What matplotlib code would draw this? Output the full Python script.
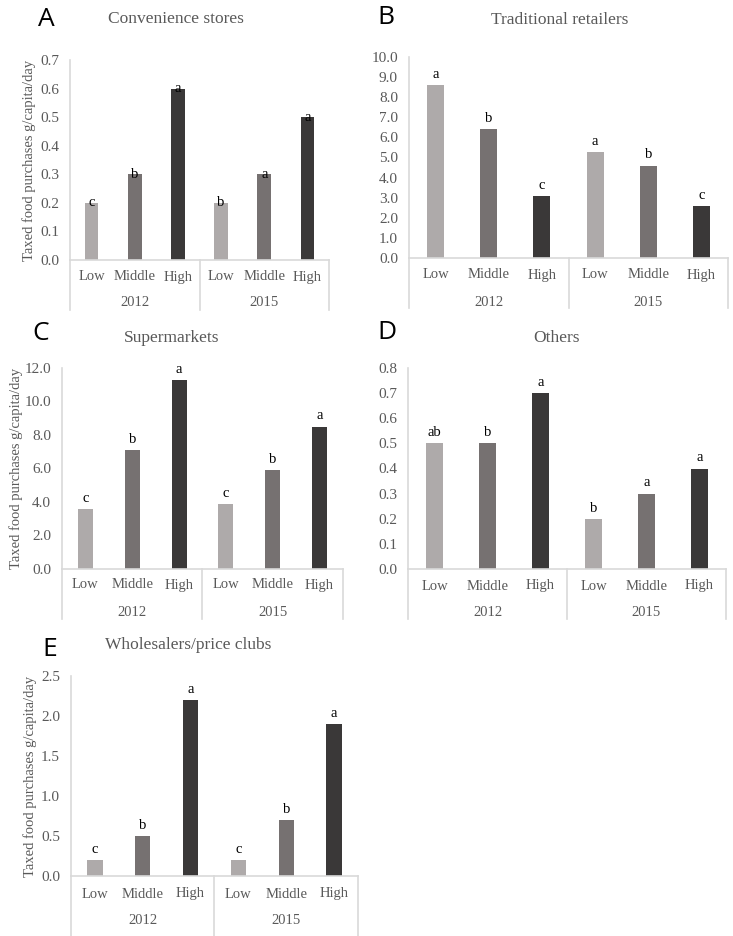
import matplotlib
matplotlib.use("Agg")
import matplotlib.pyplot as plt
import matplotlib.transforms as mtransforms

# ---- data ----
categories = ["Low", "Middle", "High"]
years = ["2012", "2015"]

conv_2012 = [0.2, 0.3, 0.6]
conv_2015 = [0.2, 0.3, 0.5]
conv_letters = ["c", "b", "a", "b", "a", "a"]

trad_2012 = [8.6, 6.4, 3.1]
trad_2015 = [5.25, 4.6, 2.6]
trad_letters = ["a", "b", "c", "a", "b", "c"]

super_2012 = [3.6, 7.1, 11.3]
super_2015 = [3.9, 5.9, 8.5]
super_letters = ["c", "b", "a", "c", "b", "a"]

other_2012 = [0.5, 0.5, 0.7]
other_2015 = [0.2, 0.3, 0.4]
other_letters = ["ab", "b", "a", "b", "a", "a"]

whole_2012 = [0.2, 0.5, 2.2]
whole_2015 = [0.2, 0.7, 1.9]
whole_letters = ["c", "b", "a", "c", "b", "a"]

bar_colors = ["#aeaaaa", "#767171", "#3a3838"]
axis_col = "#d9d9d9"
txt_col = "#595959"
SERIF = ["Liberation Serif", "DejaVu Serif"]
SANS = ["Open Sans", "DejaVu Sans"]

W, H = 733, 936
fig = plt.figure(figsize=(W / 100, H / 100), dpi=100)
fig.patch.set_facecolor("white")


def px_axes(left, right, top, bottom):
    return fig.add_axes([left / W, 1 - bottom / H, (right - left) / W, (bottom - top) / H])


def panel(box, v2012, v2015, letters, ymax, ystep, fmt, title, title_xy, tag, tag_xy,
          ylabel=None, ylabel_x=None, cat_dy=17, year_dy=42, sep_dy=50, letter_mode="above"):
    left, right, top, bottom = box
    ax = px_axes(left, right, top, bottom)
    vals = list(v2012) + list(v2015)
    xs = list(range(6))
    cols = bar_colors * 2
    ax.bar(xs, vals, width=0.32, color=cols, zorder=2)
    ax.set_xlim(-0.5, 5.5)
    ax.set_ylim(0, ymax)
    n = int(round(ymax / ystep))
    ticks = [i * ystep for i in range(n + 1)]
    ax.set_yticks(ticks)
    ax.set_yticklabels([fmt.format(t) for t in ticks], fontsize=11, color=txt_col, family=SERIF)
    ax.tick_params(axis="y", length=0, pad=8)
    ax.set_xticks([])
    for s in ["top", "right"]:
        ax.spines[s].set_visible(False)
    for s in ["left", "bottom"]:
        ax.spines[s].set_color(axis_col)
        ax.spines[s].set_linewidth(1.2)
    ax.set_facecolor("none")

    ppx = (bottom - top)  # axes height in px
    trans = mtransforms.blended_transform_factory(ax.transData, ax.transAxes)
    labs = categories * 2
    for x, lab in zip(xs, labs):
        ax.text(x, -cat_dy / ppx, lab, transform=trans, ha="center", va="center",
                fontsize=10.5, color=txt_col, family=SERIF)
    for g, yr in enumerate(years):
        ax.text(1 + 3 * g, -year_dy / ppx, yr, transform=trans, ha="center", va="center",
                fontsize=10.5, color=txt_col, family=SERIF)
    for xsep in [-0.5, 2.5, 5.5]:
        ax.plot([xsep, xsep], [0, -sep_dy / ppx], transform=trans, color=axis_col,
                lw=1.2, clip_on=False)

    for x, v, l in zip(xs, vals, letters):
        if letter_mode == "on":
            ax.text(x, v, l, ha="center", va="center", fontsize=10.5, color="black",
                    family=SERIF, zorder=3)
        else:
            ax.annotate(l, (x, v), xytext=(0, 3), textcoords="offset points",
                        ha="center", va="bottom", fontsize=10.5, color="black",
                        family=SERIF, zorder=3)

    fig.text(title_xy[0] / W, 1 - title_xy[1] / H, title, ha="center", va="center",
             fontsize=12.5, color=txt_col, family=SERIF)
    fig.text(tag_xy[0] / W, 1 - tag_xy[1] / H, tag, ha="left", va="center",
             fontsize=19, color="black", family=SANS)
    if ylabel:
        fig.text(ylabel_x / W, 1 - (top + bottom) / 2 / H, ylabel, rotation=90,
                 ha="center", va="center", fontsize=10.5, color=txt_col, family=SERIF)
    return ax


ylab = "Taxed food purchases g/capita/day"

panel((70, 329, 60, 260), conv_2012, conv_2015, conv_letters, 0.7, 0.1, "{:.1f}",
      "Convenience stores", (176, 19), "A", (38, 20), ylabel=ylab, ylabel_x=29,
      cat_dy=17, year_dy=42, sep_dy=50, letter_mode="on")

panel((409, 728, 57, 258), trad_2012, trad_2015, trad_letters, 10.0, 1.0, "{:.1f}",
      "Traditional retailers", (560, 20), "B", (377, 18),
      cat_dy=17, year_dy=44, sep_dy=50)

panel((62, 343, 368, 569), super_2012, super_2015, super_letters, 12.0, 2.0, "{:.1f}",
      "Supermarkets", (172, 338), "C", (32, 333), ylabel=ylab, ylabel_x=16,
      cat_dy=16, year_dy=43, sep_dy=50)

panel((408, 726, 368, 569), other_2012, other_2015, other_letters, 0.8, 0.1, "{:.1f}",
      "Others", (556, 338), "D", (377, 332),
      cat_dy=17, year_dy=43, sep_dy=50)

panel((71, 358, 676, 876), whole_2012, whole_2015, whole_letters, 2.5, 0.5, "{:.1f}",
      "Wholesalers/price clubs", (188, 645), "E", (42, 649), ylabel=ylab, ylabel_x=30,
      cat_dy=18, year_dy=44, sep_dy=60)

fig.savefig("out.png", dpi=100, facecolor="white")
